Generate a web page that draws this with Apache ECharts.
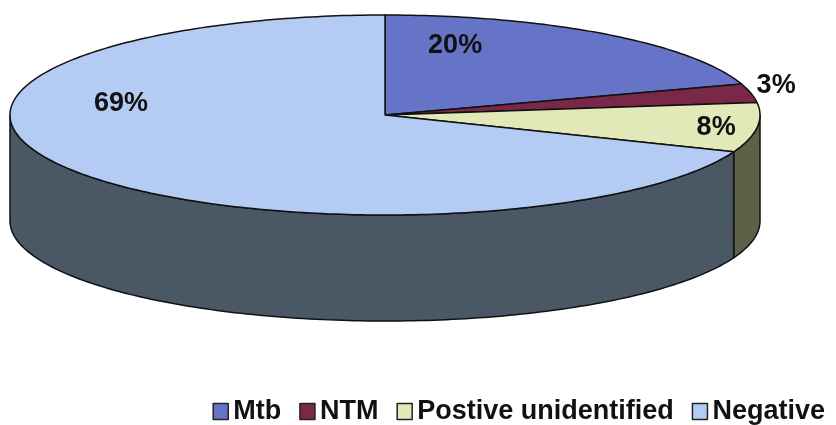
<!DOCTYPE html>
<html lang="en">

<head>
    <meta charset="UTF-8">
    <title>3D pie</title>
    <style>
        body { margin: 0; background: #fff; }
        #chart { width: 836px; height: 425px; }
    </style>
</head>

<body>
    <div id="chart"></div>
</body>
<script src="https://cdn.jsdelivr.net/npm/echarts/dist/echarts.min.js"></script>

<script>
    // values (percent)
    var categories = ['Mtb', 'NTM', 'Postive unidentified', 'Negative']
    var values = [20, 3, 8, 69]

    // styles
    var topColors = ['#6674c8', '#7a2848', '#e2e8b8', '#b4ccf4']
    var sideColors = ['#3c4680', '#4a1828', '#5b6248', '#4a5866']
    // where each percent label sits, relative to the ellipse radii
    var labelSpots = [[0.187, -0.69], [1.043, -0.29], [0.883, 0.13], [-0.704, -0.11]]

    var CX = 385, CY = 115, RX = 375, RY = 100, DEPTH = 106

    var total = 0
    for (var i = 0; i < values.length; i++) total += values[i]

    function ellipsePt(deg, dy) {
        var r = deg * Math.PI / 180
        return [CX + RX * Math.cos(r), CY - RY * Math.sin(r) + (dy || 0)]
    }

    // slices start at 12 o'clock and run clockwise
    function sliceAngles(idx) {
        var before = 0
        for (var j = 0; j < idx; j++) before += values[j]
        var a0 = 90 - 360 * before / total
        var a1 = a0 - 360 * values[idx] / total
        return [a0, a1]
    }

    function arcPoints(from, to, dy) {
        var pts = []
        for (var d = from; d > to; d -= 1) pts.push(ellipsePt(d, dy))
        pts.push(ellipsePt(to, dy))
        return pts
    }

    function renderSide(params, api) {
        var idx = params.dataIndex
        var a = sliceAngles(idx)
        var hi = Math.min(a[0], 0)
        var lo = Math.max(a[1], -180)
        if (hi <= lo) return { type: 'group', children: [] }
        var top = arcPoints(hi, lo, 0)
        var bottom = arcPoints(hi, lo, DEPTH).reverse()
        return {
            type: 'polygon',
            shape: { points: top.concat(bottom) },
            style: { fill: sideColors[idx], stroke: '#111', lineWidth: 1.5, lineJoin: 'round' }
        }
    }

    function renderTop(params, api) {
        var idx = params.dataIndex
        var a = sliceAngles(idx)
        var pts = [[CX, CY]].concat(arcPoints(a[0], a[1], 0))
        var spot = labelSpots[idx]
        return {
            type: 'group',
            children: [{
                type: 'polygon',
                shape: { points: pts },
                style: { fill: topColors[idx], stroke: '#111', lineWidth: 1.5, lineJoin: 'round' }
            }, {
                type: 'text',
                x: CX + RX * spot[0],
                y: CY + RY * spot[1],
                style: {
                    text: Math.round(api.value(1) / total * 100) + '%',
                    fill: '#111',
                    font: 'bold 27px "Liberation Sans", Arial, sans-serif',
                    align: 'center',
                    verticalAlign: 'middle'
                },
                z2: 10
            }]
        }
    }

    var seriesData = values.map(function (v, i) { return [i, v] })

    var myChart = echarts.init(document.getElementById('chart'))

    option = {
        animation: false,
        legend: {
            data: categories,
            right: 6,
            top: 393,
            icon: 'rect',
            itemWidth: 15,
            itemHeight: 16,
            itemGap: 18,
            selectedMode: false,
            itemStyle: { borderColor: '#222', borderWidth: 1.5 },
            textStyle: {
                fontFamily: '"Liberation Sans", Arial, sans-serif',
                fontWeight: 'bold',
                fontSize: 27,
                color: '#111'
            }
        },
        series: [
            {
                type: 'custom',
                coordinateSystem: 'none',
                renderItem: renderSide,
                data: seriesData,
                silent: true,
                z: 1
            },
            {
                type: 'custom',
                coordinateSystem: 'none',
                renderItem: renderTop,
                data: seriesData,
                silent: true,
                z: 2
            },
            {
                // only feeds the legend
                type: 'pie',
                radius: [0, 0],
                center: [CX, CY],
                silent: true,
                label: { show: false },
                labelLine: { show: false },
                data: categories.map(function (c, i) {
                    return { name: c, value: values[i], itemStyle: { color: topColors[i] } }
                })
            }
        ]
    };
    myChart.setOption(option);
</script>

</html>
